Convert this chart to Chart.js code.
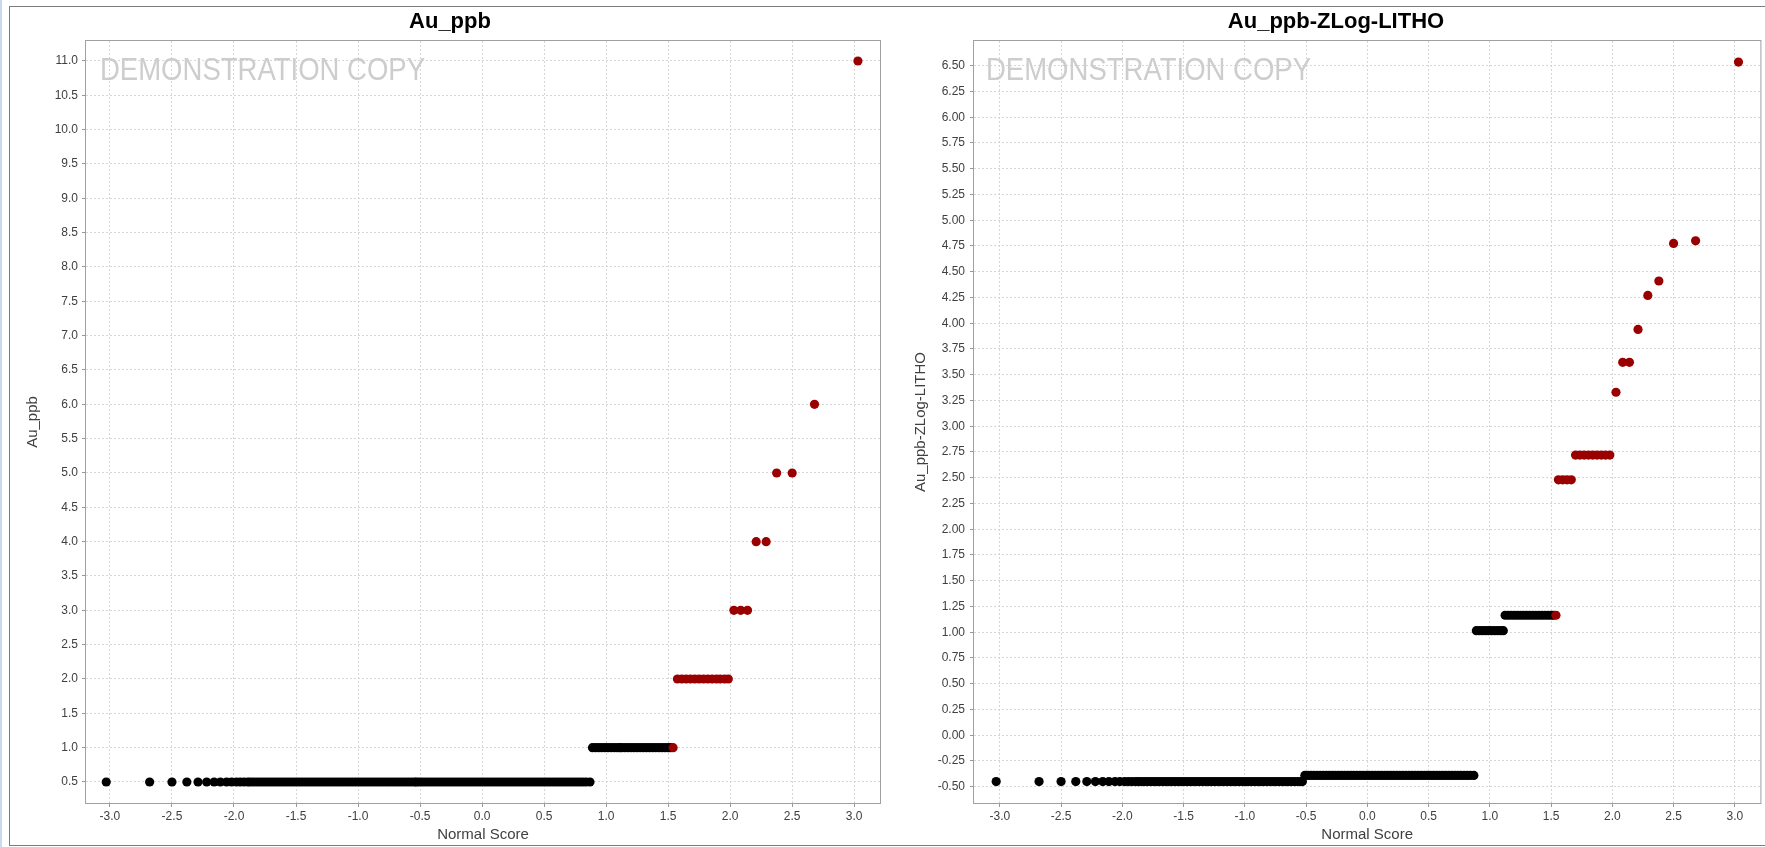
<!DOCTYPE html>
<html>
<head>
<meta charset="utf-8">
<title>Au_ppb normal score plots</title>
<script src="https://cdn.jsdelivr.net/npm/chart.js@4.4.1/dist/chart.umd.min.js"></script>
<style>
    html, body { margin: 0; padding: 0; background: #fff; overflow: hidden; }
    #page { position: relative; width: 1765px; height: 847px; overflow: hidden; }
    #frame { position: absolute; left: 9px; top: 6px; width: 1780px; height: 838px; border: 1px solid #7c7c7c; border-right: none; }
    #edge { position: absolute; left: 0; top: 0; width: 2px; height: 847px; background: #c9d9ef; }
    canvas { position: absolute; top: 0; }
    #au-chart { left: 0; }
    #zlog-chart { left: 900px; }
</style>
</head>
<body>
<div id="page">
    <div id="edge"></div>
    <div id="frame"></div>
    <canvas id="au-chart" width="900" height="847"></canvas>
    <canvas id="zlog-chart" width="865" height="847"></canvas>
</div>
<script>
var xTicks = [-3.0, -2.5, -2.0, -1.5, -1.0, -0.5, 0.0, 0.5, 1.0, 1.5, 2.0, 2.5, 3.0];
var auTicks = [0.5, 1.0, 1.5, 2.0, 2.5, 3.0, 3.5, 4.0, 4.5, 5.0, 5.5, 6.0, 6.5, 7.0, 7.5, 8.0, 8.5, 9.0, 9.5, 10.0, 10.5, 11.0];
var zlogTicks = [-0.50, -0.25, 0.00, 0.25, 0.50, 0.75, 1.00, 1.25, 1.50, 1.75, 2.00, 2.25, 2.50, 2.75, 3.00, 3.25, 3.50, 3.75, 4.00, 4.25, 4.50, 4.75, 5.00, 5.25, 5.50, 5.75, 6.00, 6.25, 6.50];

// normal scores of the black (background) samples, same samples in both plots
var lowScores = [-3.03, -2.68, -2.50, -2.38, -2.29, -2.22, -2.16, -2.11, -2.06, -2.02, -1.98, -1.95, -1.92, -1.89,
    -1.87, -1.845, -1.82, -1.795, -1.77, -1.745, -1.72, -1.695, -1.67, -1.645, -1.62, -1.595, -1.57, -1.545, -1.52, -1.495,
    -1.47, -1.445, -1.42, -1.395, -1.37, -1.345, -1.32, -1.295, -1.27, -1.245, -1.22, -1.195, -1.17, -1.145, -1.12, -1.095,
    -1.07, -1.045, -1.02, -0.995, -0.97, -0.945, -0.92, -0.895, -0.87, -0.845, -0.82, -0.795, -0.77, -0.745, -0.72, -0.695,
    -0.67, -0.645, -0.62, -0.595, -0.57, -0.545, -0.53];
var midScores = [-0.51, -0.485, -0.46, -0.435, -0.41, -0.385, -0.36, -0.335, -0.31, -0.285, -0.26, -0.235, -0.21, -0.185,
    -0.16, -0.135, -0.11, -0.085, -0.06, -0.035, -0.01, 0.015, 0.04, 0.065, 0.09, 0.115, 0.14, 0.165, 0.19, 0.215, 0.24,
    0.265, 0.29, 0.315, 0.34, 0.365, 0.39, 0.415, 0.44, 0.465, 0.49, 0.515, 0.54, 0.565, 0.59, 0.615, 0.64, 0.665, 0.69,
    0.715, 0.74, 0.765, 0.79, 0.815, 0.84, 0.87];
var oneScores = [0.89, 0.915, 0.94, 0.965, 0.99, 1.015, 1.04, 1.065, 1.09, 1.11];
var oneHighScores = [1.125, 1.15, 1.175, 1.20, 1.225, 1.25, 1.275, 1.30, 1.325, 1.35, 1.375, 1.40, 1.425, 1.45, 1.475, 1.50, 1.52];

// Au_ppb value of each black group: low, mid, one, oneHigh
var auLevels = [0.5, 0.5, 1.0, 1.0];
// Au_ppb: red (upper) samples
var auRedScores = [1.54, 1.575, 1.61, 1.645, 1.68, 1.715, 1.75, 1.785, 1.82, 1.855, 1.89, 1.92, 1.955, 1.985, 2.03, 2.085, 2.14, 2.21, 2.29, 2.375, 2.50, 2.68, 3.03];
var auRedValues = [1.0, 2.0, 2.0, 2.0, 2.0, 2.0, 2.0, 2.0, 2.0, 2.0, 2.0, 2.0, 2.0, 2.0, 3.0, 3.0, 3.0, 4.0, 4.0, 5.0, 5.0, 6.0, 11.0];

// Au_ppb-ZLog-LITHO value of each black group
var zlogLevels = [-0.45, -0.39, 1.015, 1.165];
// Au_ppb-ZLog-LITHO: red samples
var zlogRedScores = [1.54, 1.56, 1.595, 1.63, 1.665, 1.70, 1.735, 1.77, 1.805, 1.84, 1.875, 1.91, 1.945, 1.98, 2.03, 2.085, 2.14, 2.21, 2.29, 2.38, 2.50, 2.68, 3.03];
var zlogRedValues = [1.165, 2.48, 2.48, 2.48, 2.48, 2.72, 2.72, 2.72, 2.72, 2.72, 2.72, 2.72, 2.72, 2.72, 3.33, 3.62, 3.62, 3.94, 4.27, 4.41, 4.775, 4.80, 6.535];

var RED = '#9b0000';
var GRID = '#d6d6d6';
var TEXT = '#404040';
var FONT = '"Liberation Sans", Arial, sans-serif';

function bandPoints(levels) {
    var groups = [lowScores, midScores, oneScores, oneHighScores];
    var pts = [];
    groups.forEach(function (scores, i) {
        scores.forEach(function (s) { pts.push({x: s, y: levels[i]}); });
    });
    return pts;
}

function pairPoints(xs, ys) {
    return xs.map(function (x, i) { return {x: x, y: ys[i]}; });
}

var framePlugin = {
    id: 'npFrame',
    beforeDatasetsDraw: function (chart, args, opts) {
        var ctx = chart.ctx;
        ctx.save();
        ctx.font = '31px ' + FONT;
        ctx.fillStyle = '#cdcdcd';
        ctx.textBaseline = 'alphabetic';
        var w = ctx.measureText('DEMONSTRATION COPY').width;
        ctx.translate(opts.markX, 80);
        ctx.scale(325 / w, 1);
        ctx.fillText('DEMONSTRATION COPY', 0, 0);
        ctx.restore();
    },
    afterDraw: function (chart, args, opts) {
        var ctx = chart.ctx;
        var a = chart.chartArea;
        ctx.save();
        ctx.strokeStyle = '#a0a0a0';
        ctx.lineWidth = 1;
        ctx.strokeRect(a.left - 0.5, a.top - 0.5, a.right - a.left + 1, a.bottom - a.top + 1);
        ctx.fillStyle = '#000';
        ctx.font = 'bold 22px ' + FONT;
        ctx.textAlign = 'center';
        ctx.textBaseline = 'alphabetic';
        ctx.fillText(opts.title, opts.titleX, 28);
        ctx.restore();
    }
};

function drawNormalScoreChart(id, cfg) {
    var ctx = document.getElementById(id);

    new Chart(ctx, {
        type: 'scatter',
        data: {
            datasets: [
                {data: cfg.red, backgroundColor: RED},
                {data: cfg.black, backgroundColor: '#000000'}
            ]
        },
        options: {
            responsive: false,
            animation: false,
            events: [],
            layout: {padding: {top: 41, right: cfg.padRight, left: 0, bottom: 0}},
            elements: {point: {radius: 4.6, hoverRadius: 4.6, borderWidth: 0}},
            plugins: {
                legend: {display: false},
                tooltip: {enabled: false},
                title: {display: false},
                npFrame: {title: cfg.title, titleX: cfg.titleX, markX: cfg.markX}
            },
            scales: {
                x: {
                    type: 'linear',
                    min: cfg.xMin,
                    max: cfg.xMax,
                    afterBuildTicks: function (s) { s.ticks = xTicks.map(function (v) { return {value: v}; }); },
                    afterFit: function (s) { s.height = 44; },
                    grid: {color: GRID, tickColor: '#999999', tickLength: 4, tickBorderDash: []},
                    border: {display: false, dash: [2, 2]},
                    ticks: {
                        autoSkip: false, maxRotation: 0, padding: 2, color: TEXT,
                        font: {family: FONT, size: 12},
                        callback: function (v) { return v.toFixed(1); }
                    },
                    title: {display: true, text: 'Normal Score', color: TEXT, font: {family: FONT, size: 15}, padding: {top: 0, bottom: 3}}
                },
                y: {
                    type: 'linear',
                    min: cfg.yMin,
                    max: cfg.yMax,
                    afterBuildTicks: function (s) { s.ticks = cfg.yTicks.map(function (v) { return {value: v}; }); },
                    afterFit: function (s) { s.width = cfg.yWidth; },
                    grid: {color: GRID, tickColor: '#999999', tickLength: 4, tickBorderDash: []},
                    border: {display: false, dash: [2, 2]},
                    ticks: {
                        autoSkip: false, padding: cfg.yTickPad, color: TEXT,
                        font: {family: FONT, size: 12},
                        callback: function (v) { return v.toFixed(cfg.yDigits); }
                    },
                    title: {display: true, text: cfg.title, color: TEXT, font: {family: FONT, size: 15}, padding: {top: cfg.yTitlePad, bottom: 0}}
                }
            }
        },
        plugins: [framePlugin]
    });
}

drawNormalScoreChart('au-chart', {
    title: 'Au_ppb',
    titleX: 450,
    markX: 100,
    padRight: 20,
    xMin: -3.193, xMax: 3.208,
    yMin: 0.194, yMax: 11.291,
    yTicks: auTicks, yDigits: 1,
    yWidth: 86, yTickPad: 4, yTitlePad: 24,
    black: bandPoints(auLevels),
    red: pairPoints(auRedScores, auRedValues)
});

drawNormalScoreChart('zlog-chart', {
    title: 'Au_ppb-ZLog-LITHO',
    titleX: 436,
    markX: 86,
    padRight: 0,
    xMin: -3.211, xMax: 3.209,
    yMin: -0.658, yMax: 6.74,
    yTicks: zlogTicks, yDigits: 2,
    yWidth: 74, yTickPad: 5, yTitlePad: 12,
    black: bandPoints(zlogLevels),
    red: pairPoints(zlogRedScores, zlogRedValues)
});
</script>
</body>
</html>
